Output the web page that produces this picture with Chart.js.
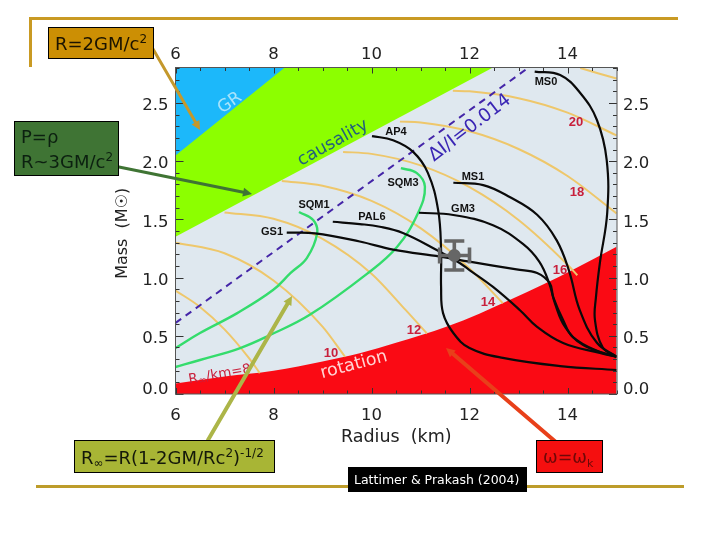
<!DOCTYPE html>
<html><head><meta charset="utf-8">
<style>html,body{margin:0;padding:0;background:#fff}canvas{display:block}</style>
<script src="https://cdn.jsdelivr.net/npm/chart.js@4/dist/chart.umd.min.js"></script>
</head><body><canvas id="c" width="720" height="540"></canvas>
<script>
// ---- axis ticks ----
const radiusTicks = [6, 8, 10, 12, 14];
const massTicks = [0, 0.5, 1, 1.5, 2, 2.5];
const radiusRange = [6, 15.01];
const massRange = [0, 2.805];

// ---- region boundaries [R km, M solar] ----
const grBoundary = [[6, 2.05], [8.23, 2.805]];
const causalityBoundary = [[6, 1.35], [12.48, 2.805]];
const rotationBoundary = [[6, 0.09], [7, 0.15], [8, 0.2], [9, 0.28], [9.76, 0.35], [10.5, 0.44], [11.54, 0.58], [12.2, 0.69], [12.83, 0.81], [13.5, 0.94], [14.1, 1.065], [15, 1.265]];

// ---- constant R-infinity curves ----
const iso8 = [[6, 0.889], [6.5, 0.748], [7, 0.555], [7.5, 0.308], [7.72, 0.18]];
const iso10 = [[6, 1.3], [7, 1.209], [8, 0.975], [9, 0.579], [9.46, 0.32]];
const iso12 = [[7, 1.56], [8, 1.505], [9, 1.333], [10, 1.034], [10.7, 0.72], [11.13, 0.52]];
const iso14 = [[8.17, 1.83], [9, 1.789], [10, 1.659], [11, 1.425], [12, 1.078], [12.68, 0.78]];
const iso16 = [[9.42, 2.08], [10, 2.063], [11, 1.964], [12, 1.777], [13, 1.495], [14, 1.111], [14.2, 1.02]];
const iso18 = [[10.58, 2.34], [11, 2.333], [12, 2.257], [13, 2.105], [14, 1.873], [15, 1.552]];
const iso20 = [[11.66, 2.605], [12, 2.6], [13, 2.541], [14, 2.417], [15, 2.222]];
const iso22 = [[14.26, 2.8], [15, 2.71]];

// ---- crustal moment line ----
const momentLine = [[6, 0.61], [13.19, 2.8]];

// ---- strange-matter equations of state ----
const sqm1 = [[8.52, 1.563], [8.81, 1.495], [8.89, 1.38], [8.68, 1.168], [8.35, 1.04], [7.99, 0.893], [7.26, 0.695], [6.5, 0.524], [6, 0.395]];
const sqm3 = [[10.6, 1.94], [10.92, 1.9], [11.09, 1.78], [10.95, 1.555], [10.52, 1.263], [9.9, 1.03], [8.74, 0.68], [7.93, 0.507], [7.32, 0.395], [6.5, 0.292], [6, 0.232]];

// ---- normal-matter equations of state ----
const gs1 = [[8.27, 1.386], [8.85, 1.38], [9.76, 1.31], [10.44, 1.24], [11.4, 1.18], [12, 1.137], [12.96, 1.07], [13.38, 1.04], [13.64, 0.95], [13.71, 0.83], [13.91, 0.636], [14.11, 0.49], [14.66, 0.36], [15, 0.32]];
const pal6 = [[9.21, 1.48], [9.76, 1.46], [10.17, 1.437], [10.64, 1.383], [11.33, 1.237], [11.8, 1.125], [12, 1.065], [12.48, 0.92], [13.03, 0.72], [13.38, 0.577], [13.91, 0.438], [14.66, 0.352], [15, 0.32]];
const ap4 = [[10.01, 2.216], [10.44, 2.18], [10.85, 2.08], [11.15, 1.9], [11.36, 1.58], [11.42, 1.237], [11.42, 0.92], [11.46, 0.695], [11.67, 0.524], [12, 0.395], [12.68, 0.31], [13.85, 0.24], [15, 0.206]];
const gm3 = [[10.97, 1.557], [11.67, 1.538], [12.48, 1.45], [13.09, 1.29], [13.42, 1.14], [13.62, 0.96], [13.75, 0.77], [13.95, 0.576], [14.32, 0.42], [15, 0.32]];
const ms1 = [[11.67, 1.815], [12.28, 1.795], [12.83, 1.69], [13.38, 1.54], [13.78, 1.32], [14.03, 1.06], [14.25, 0.72], [14.6, 0.44], [15, 0.32]];
const ms0 = [[13.33, 2.77], [13.85, 2.74], [14.26, 2.586], [14.6, 2.354], [14.8, 2.01], [14.81, 1.555], [14.66, 1.125], [14.58, 0.83], [14.56, 0.636], [14.72, 0.4], [15, 0.32]];

// ---- observed point with error bars ----
const obsRadius = 11.69;
const obsMass = 1.19;
const obsRadiusErr = [11.39, 12.0];
const obsMassErr = [1.065, 1.315];

// ---- text ----
const eosLabels = ['MS0', 'AP4', 'MS1', 'SQM3', 'GM3', 'PAL6', 'SQM1', 'GS1'];
const isoLabels = ['20', '18', '16', '14', '12', '10'];

const COL = { iso: '#eec76b', black: '#0a0a0a', green: '#34dc6c', plot: '#dfe8ef' };
const toXY = a => a.map(p => ({ x: p[0], y: p[1] }));
const line = (arr, color, width, extra) => Object.assign({
  data: toXY(arr), borderColor: color, borderWidth: width, pointRadius: 0, tension: 0.4,
  fill: false, backgroundColor: 'transparent', xAxisID: 'x', yAxisID: 'y'
}, extra || {});
const mono = { cubicInterpolationMode: 'monotone' };

const layers = [
  line(causalityBoundary, '#8cff00', 0, { fill: 'end', backgroundColor: '#8cff00', tension: 0 }),
  line(grBoundary, '#1cb8fa', 0, { fill: 'end', backgroundColor: '#1cb8fa', tension: 0 }),
  line(rotationBoundary, '#fa0a14', 0, Object.assign({ fill: 'start', backgroundColor: '#fa0a14' }, mono)),
  ...[iso8, iso10, iso12, iso14, iso16, iso18, iso20, iso22].map(a => line(a, COL.iso, 2, mono)),
  line(momentLine, '#4526a8', 2, { borderDash: [7, 5.5], tension: 0 }),
  line(sqm1, COL.green, 2.4),
  line(sqm3, COL.green, 2.4),
  ...[gs1, pal6, ap4, gm3, ms1, ms0].map(a => line(a, COL.black, 2.2))
];
const datasets = layers.map((d, i) => Object.assign(d, { order: layers.length - i }));

const textAt = (ctx, s, x, y, font, color, deg) => {
  ctx.save();
  ctx.translate(x, y);
  ctx.rotate((deg || 0) * Math.PI / 180);
  ctx.font = font; ctx.fillStyle = color;
  ctx.textAlign = 'center'; ctx.textBaseline = 'middle';
  ctx.fillText(s, 0, 0);
  ctx.restore();
};
// runs: [text, size, dy]
const runs = (ctx, list, x, y, color, family) => {
  ctx.save();
  ctx.fillStyle = color; ctx.textAlign = 'left'; ctx.textBaseline = 'alphabetic';
  let cx = x;
  list.forEach(r => {
    ctx.font = r[1] + 'px ' + family;
    ctx.fillText(r[0], cx, y + r[2]);
    cx += ctx.measureText(r[0]).width;
  });
  ctx.restore();
};
const box = (ctx, x0, y0, x1, y1, fill) => {
  ctx.fillStyle = fill; ctx.fillRect(x0, y0, x1 - x0, y1 - y0);
  ctx.strokeStyle = '#000'; ctx.lineWidth = 1;
  ctx.strokeRect(x0 + .5, y0 + .5, x1 - x0 - 1, y1 - y0 - 1);
};
const arrow = (ctx, x0, y0, x1, y1, color, w) => {
  const a = Math.atan2(y1 - y0, x1 - x0), L = 9, S = 4.5;
  ctx.strokeStyle = color; ctx.fillStyle = color; ctx.lineWidth = w; ctx.lineCap = 'round';
  ctx.beginPath(); ctx.moveTo(x0, y0);
  ctx.lineTo(x1 - L * .7 * Math.cos(a), y1 - L * .7 * Math.sin(a)); ctx.stroke();
  ctx.beginPath(); ctx.moveTo(x1, y1);
  ctx.lineTo(x1 - L * Math.cos(a) - S * Math.sin(a), y1 - L * Math.sin(a) + S * Math.cos(a));
  ctx.lineTo(x1 - L * Math.cos(a) + S * Math.sin(a), y1 - L * Math.sin(a) - S * Math.cos(a));
  ctx.closePath(); ctx.fill();
  ctx.lineCap = 'butt';
};

const plotBackground = {
  id: 'plotBackground',
  beforeDatasetsDraw(chart) {
    const { ctx, chartArea: a } = chart;
    ctx.fillStyle = COL.plot;
    ctx.fillRect(a.left, a.top, a.right - a.left, a.bottom - a.top);
  }
};

const decorations = {
  id: 'decorations',
  afterDatasetsDraw(chart) {
    const { ctx, chartArea: a, scales: { x, y } } = chart;
    const SF = '"DejaVu Sans"', AR = '"Liberation Sans"';

    // minor + major inward ticks and frame
    ctx.strokeStyle = '#333'; ctx.lineWidth = 1;
    ctx.beginPath();
    for (let i = 12; i <= 30; i++) {
      const v = i / 2, px = Math.round(x.getPixelForValue(v)) + .5;
      const L = i % 4 === 0 ? 6 : 3.5;
      ctx.moveTo(px, a.top); ctx.lineTo(px, a.top + L);
      ctx.moveTo(px, a.bottom); ctx.lineTo(px, a.bottom - L);
    }
    for (let i = 0; i <= 28; i++) {
      const v = i / 10, py = Math.round(y.getPixelForValue(v)) + .5;
      const L = i % 5 === 0 ? 8 : 4;
      ctx.moveTo(a.left, py); ctx.lineTo(a.left + L, py);
      ctx.moveTo(a.right, py); ctx.lineTo(a.right - L, py);
    }
    ctx.stroke();
    ctx.strokeStyle = '#555';
    ctx.strokeRect(a.left, a.top, a.right - a.left, a.bottom - a.top);

    // observation error cross
    const cx = x.getPixelForValue(obsRadius), cy = y.getPixelForValue(obsMass);
    const xl = x.getPixelForValue(obsRadiusErr[0]), xr = x.getPixelForValue(obsRadiusErr[1]);
    const yb = y.getPixelForValue(obsMassErr[0]), yt = y.getPixelForValue(obsMassErr[1]);
    ctx.strokeStyle = '#666'; ctx.lineWidth = 3.6;
    ctx.beginPath();
    ctx.moveTo(xl, cy); ctx.lineTo(xr, cy);
    ctx.moveTo(cx, yb); ctx.lineTo(cx, yt);
    ctx.moveTo(xl, cy - 8); ctx.lineTo(xl, cy + 8);
    ctx.moveTo(xr, cy - 8); ctx.lineTo(xr, cy + 8);
    ctx.moveTo(cx - 10, yb); ctx.lineTo(cx + 10, yb);
    ctx.moveTo(cx - 10, yt); ctx.lineTo(cx + 10, yt);
    ctx.stroke();
    ctx.fillStyle = '#666';
    ctx.beginPath(); ctx.arc(cx, cy, 6.5, 0, 7); ctx.fill();

    // EOS labels
    const eosPos = [[546, 82], [396, 132], [473, 177], [403, 183], [463, 209], [372, 217], [314, 205], [272, 232]];
    eosLabels.forEach((s, i) => textAt(ctx, s, eosPos[i][0], eosPos[i][1], 'bold 11px ' + AR, '#111'));
    // iso labels
    const isoPos = [[576, 122], [577, 192], [560, 270], [488, 302], [414, 330], [331, 353]];
    isoLabels.forEach((s, i) => textAt(ctx, s, isoPos[i][0], isoPos[i][1], 'bold 13px ' + AR, '#c8203c'));

    // region labels
    textAt(ctx, 'GR', 230, 103, '17px ' + SF, '#a8e4fb', -35);
    textAt(ctx, 'causality', 333, 143, '17.5px ' + SF, '#22607c', -29);
    textAt(ctx, 'ΔI/I=0.014', 470, 128, '18.5px ' + SF, '#3a26b4', -37.5);
    textAt(ctx, 'rotation', 354, 365, '17.5px ' + SF, '#ffd4d4', -15);
    ctx.save();
    ctx.translate(220, 373); ctx.rotate(-10 * Math.PI / 180);
    runs(ctx, [['R', 13.5, 5], ['∞', 10, 7], ['/km=8', 13.5, 5]], -32, 0, '#c8203c', SF);
    ctx.restore();

    // slide rules
    ctx.fillStyle = '#c99a23';
    ctx.fillRect(29, 17, 649, 3);
    ctx.fillRect(29, 17, 3, 50);
    ctx.fillStyle = '#bd9c2a';
    ctx.fillRect(36, 485, 648, 3);

    // arrows
    arrow(ctx, 153, 49, 200, 130, '#c4982c', 3);
    arrow(ctx, 119, 167, 252, 194, '#3f7434', 3);
    arrow(ctx, 208, 440, 292, 296, '#acb548', 4);
    arrow(ctx, 557, 443, 446, 348, '#e8401a', 4);

    // callout boxes
    box(ctx, 48, 27, 154, 59, '#cc8f04');
    runs(ctx, [['R=2GM/c', 18, 0], ['2', 12, -7]], 55, 50, '#1c1400', SF);
    box(ctx, 14, 121, 119, 176, '#3f7434');
    runs(ctx, [['P=ρ', 18, 0]], 21, 143, '#0c2010', SF);
    runs(ctx, [['R~3GM/c', 18, 0], ['2', 12, -7]], 21, 168, '#0c2010', SF);
    box(ctx, 74, 440, 275, 473, '#a8b535');
    runs(ctx, [['R', 18, 0], ['∞', 12, 3], ['=R(1-2GM/Rc', 18, 0], ['2', 12, -7], [')', 18, 0], ['-1/2', 12, -7]], 81, 464, '#14180a', SF);
    box(ctx, 536, 440, 603, 473, '#f50f0f');
    runs(ctx, [['ω=ω', 17.5, 0], ['k', 11, 4]], 543, 463, '#6e0808', SF);
    ctx.fillStyle = '#000';
    ctx.fillRect(348, 467, 179, 25);
    runs(ctx, [['Lattimer & Prakash (2004)', 12.5, 0]], 354, 484, '#fff', SF);
  }
};

const tickFont = { family: '"DejaVu Sans"', size: 16.5 };
const axisCommon = {
  type: 'linear',
  grid: { display: false, drawTicks: false },
  border: { display: false }
};
const fixed = (prop, v) => s => { s[prop] = v; };
const setTicks = vals => s => { s.ticks = vals.map(v => ({ value: v })); };
// Two-line labels nudge the tick text: the zero label sits above its tick, the others just below.
const massFont = c => Object.assign({}, tickFont, { lineHeight: c.tick && c.tick.value === 0 ? 0.48 : 0.36 });
const massLabel = v => v === 0 ? ['0.0', ''] : ['', v.toFixed(1)];

new Chart(document.getElementById('c'), {
  type: 'line',
  data: { datasets },
  plugins: [plotBackground, decorations],
  options: {
    responsive: false, animation: false, devicePixelRatio: 1,
    layout: { padding: 0 },
    plugins: { legend: { display: false }, tooltip: { enabled: false } },
    scales: {
      x: Object.assign({}, axisCommon, {
        position: 'bottom', min: radiusRange[0], max: radiusRange[1],
        afterBuildTicks: setTicks(radiusTicks), afterFit: fixed('height', 146),
        ticks: { font: tickFont, color: '#222', padding: 12, maxRotation: 0, autoSkip: false, callback: v => String(v) },
        title: { display: true, text: 'Radius  (km)', font: { family: '"DejaVu Sans"', size: 17.5 }, color: '#222', padding: { top: 0, bottom: 92 } }
      }),
      xTop: Object.assign({}, axisCommon, {
        axis: 'x', position: 'top', min: radiusRange[0], max: radiusRange[1],
        afterBuildTicks: setTicks(radiusTicks), afterFit: fixed('height', 67.5),
        ticks: { font: tickFont, color: '#222', padding: 3, maxRotation: 0, autoSkip: false, callback: v => String(v) }
      }),
      y: Object.assign({}, axisCommon, {
        position: 'left', min: massRange[0], max: massRange[1],
        afterBuildTicks: setTicks(massTicks), afterFit: fixed('width', 175.5),
        ticks: { font: massFont, color: '#222', padding: 7, autoSkip: false, callback: massLabel },
        title: { display: true, text: 'Mass  (M☉) ', font: { family: '"DejaVu Sans"', size: 16 }, color: '#222', padding: { top: 113, bottom: 0 } }
      }),
      yRight: Object.assign({}, axisCommon, {
        axis: 'y', position: 'right', min: massRange[0], max: massRange[1],
        afterBuildTicks: setTicks(massTicks), afterFit: fixed('width', 103),
        ticks: { font: massFont, color: '#222', padding: 6, autoSkip: false, callback: massLabel }
      })
    }
  }
});
</script></body></html>
